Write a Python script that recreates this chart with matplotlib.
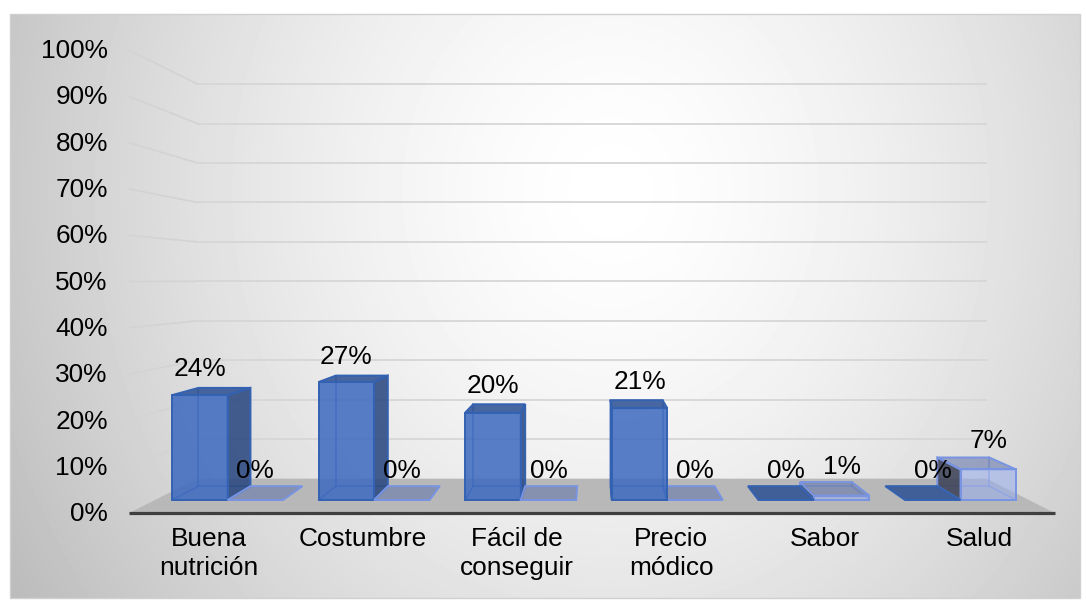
import numpy as np
import matplotlib
matplotlib.use("Agg")
import matplotlib.pyplot as plt
from matplotlib.patches import Polygon, Rectangle

# ---- data ----
categories = ["Buena\nnutrición", "Costumbre", "Fácil de\nconseguir",
              "Precio\nmódico", "Sabor", "Salud"]
serie_1 = [0.24, 0.27, 0.20, 0.21, 0.00, 0.00]
serie_2 = [0.00, 0.00, 0.00, 0.00, 0.01, 0.07]
y_ticks = [0.0, 0.1, 0.2, 0.3, 0.4, 0.5, 0.6, 0.7, 0.8, 0.9, 1.0]
y_tick_labels = [f"{int(round(t * 100))}%" for t in y_ticks]

# ---- figure ----
W, H = 1086, 606
DPI = 100
plt.rcParams['font.family'] = ['Liberation Sans', 'DejaVu Sans']
FS = 18.9

fig = plt.figure(figsize=(W / DPI, H / DPI), dpi=DPI)
ax = fig.add_axes([0, 0, 1, 1])
ax.set_xlim(0, W)
ax.set_ylim(H, 0)
ax.axis('off')

# perspective layout (vanishing point, planes, scale)
VX, VY = 592.0, 280.0
X0, STEP, BAR_W = 227.5, 146.6, 55.5
Y0, HV = 500.0, 437.0
K_FLOOR_FRONT, K_BAR_FRONT, K_BAR_BACK, K_WALL = 1.06, 1.0, 0.937, 0.903
XL, XR = VX - 437.0, VX + 437.0


def proj(x, v, k):
    return (VX + k * (x - VX), VY + k * (Y0 - HV * v - VY))


# chart area background: soft radial gradient with a thin border
cx0, cy0, cx1, cy1 = 10, 14, 1080, 598
yy, xx = np.mgrid[cy0:cy1, cx0:cx1]
d = np.sqrt(((xx - 610) / 560.0) ** 2 + ((yy - 190) / 620.0) ** 2)
g = 1.0 - 0.19 * np.clip(d, 0, 1.4) ** 1.5
ax.imshow(g, cmap='gray', vmin=0, vmax=1, extent=(cx0, cx1, cy1, cy0),
          interpolation='bilinear', zorder=0, aspect='auto')
ax.add_patch(Rectangle((cx0, cy0), cx1 - cx0, cy1 - cy0, fill=False,
                       edgecolor='#D0D0D0', lw=1.0, zorder=1))
ax.set_xlim(0, W)
ax.set_ylim(H, 0)

# floor
floor = [proj(XL, 0, K_FLOOR_FRONT), proj(XR, 0, K_FLOOR_FRONT),
         proj(XR, 0, K_WALL), proj(XL, 0, K_WALL)]
ax.add_patch(Polygon(floor, closed=True, facecolor='#B8B8B8',
                     edgecolor='none', zorder=2))

# gridlines on back wall and side wall
for v in y_ticks[1:]:
    p0, p1 = proj(XL, v, K_WALL), proj(XR, v, K_WALL)
    ax.plot([p0[0], p1[0]], [p0[1], p1[1]], color='#D6D6D6', lw=1.3,
            solid_capstyle='butt', zorder=2)
    q0 = proj(XL, v, K_FLOOR_FRONT)
    ax.plot([q0[0], p0[0]], [q0[1], p0[1]], color='#D3D3D3', lw=1.2,
            solid_capstyle='butt', zorder=2)

# horizontal axis line
a0, a1 = proj(XL, 0, K_FLOOR_FRONT), proj(XR, 0, K_FLOOR_FRONT)
ax.plot([a0[0], a1[0]], [a0[1], a1[1]], color='#3F3F3F', lw=2.3,
        solid_capstyle='butt', zorder=3)

# y tick labels
for v, lab in zip(y_ticks, y_tick_labels):
    px, py = proj(XL, v, K_FLOOR_FRONT)
    ax.text(px - 21, py + 1, lab, ha='right', va='center', fontsize=FS,
            color='#000000', zorder=10)

STYLE_1 = dict(front='#3D6ABF', top='#2C4F93', side='#27457F',
               edge='#3462B2', a_face=0.86, a_side=0.86)
STYLE_2 = dict(front='#97ACEE', top='#5E70A8', side='#3C4258',
               edge='#7894E2', a_face=0.55, a_side=0.88)


def draw_box(x0, x1, v, st, z):
    kf, kb = K_BAR_FRONT, K_BAR_BACK
    flb, frb = proj(x0, 0, kf), proj(x1, 0, kf)
    flt, frt = proj(x0, v, kf), proj(x1, v, kf)
    blb, brb = proj(x0, 0, kb), proj(x1, 0, kb)
    blt, brt = proj(x0, v, kb), proj(x1, v, kb)
    ec = st['edge']
    # edges seen through the transparent faces
    hidden = [(blb, brb)]
    if x1 < VX:
        hidden += [(blb, blt), (flb, blb)]
    elif x0 > VX:
        hidden += [(brb, brt), (frb, brb)]
    if v > 0:
        for p, q in hidden:
            ax.plot([p[0], q[0]], [p[1], q[1]], color=ec, lw=1.1,
                    alpha=0.7, zorder=z)
    # side face toward the viewer's centre line
    if v > 0:
        if x1 < VX:
            side = [frb, brb, brt, frt]
        else:
            side = [flb, blb, blt, flt]
        ax.add_patch(Polygon(side, closed=True, facecolor=st['side'],
                             alpha=st['a_side'], edgecolor='none', zorder=z))
        ax.add_patch(Polygon(side, closed=True, fill=False, edgecolor=ec,
                             lw=1.4, zorder=z + 0.01))
    top = [flt, frt, brt, blt]
    ax.add_patch(Polygon(top, closed=True, facecolor=st['top'],
                         alpha=st['a_face'], edgecolor='none', zorder=z + 0.02))
    ax.add_patch(Polygon(top, closed=True, fill=False, edgecolor=ec,
                         lw=1.4, zorder=z + 0.03))
    if v > 0:
        front = [flb, frb, frt, flt]
        ax.add_patch(Polygon(front, closed=True, facecolor=st['front'],
                             alpha=st['a_face'], edgecolor='none',
                             zorder=z + 0.04))
        ax.add_patch(Polygon(front, closed=True, fill=False, edgecolor=ec,
                             lw=1.4, zorder=z + 0.05))
    # label position: above the middle of the top face
    mid_y = 0.5 * (flt[1] + blt[1])
    return 0.5 * (flt[0] + frt[0]), mid_y


boxes = []
for i, (v1, v2) in enumerate(zip(serie_1, serie_2)):
    xc = X0 + STEP * i
    boxes.append((xc - BAR_W, xc, v1, STYLE_1))
    boxes.append((xc, xc + BAR_W, v2, STYLE_2))

# paint outer boxes first so inner ones sit on top
order = sorted(range(len(boxes)),
               key=lambda j: -abs(0.5 * (boxes[j][0] + boxes[j][1]) - VX))
label_pos = {}
for rank, j in enumerate(order):
    x0, x1, v, st = boxes[j]
    label_pos[j] = draw_box(x0, x1, v, st, 4 + rank * 0.1)

for j, (x0, x1, v, st) in enumerate(boxes):
    lx, ly = label_pos[j]
    ax.text(lx, ly - 22, f"{v:.0%}", ha='center', va='center', fontsize=FS,
            color='#000000', zorder=12)

# category labels along the front edge
for i, cat in enumerate(categories):
    px, _ = proj(X0 + STEP * i, 0, 1.05)
    ax.text(px, 527, cat, ha='center', va='top', fontsize=FS,
            linespacing=1.27, color='#000000', zorder=10)

fig.savefig('out.png', dpi=DPI)
